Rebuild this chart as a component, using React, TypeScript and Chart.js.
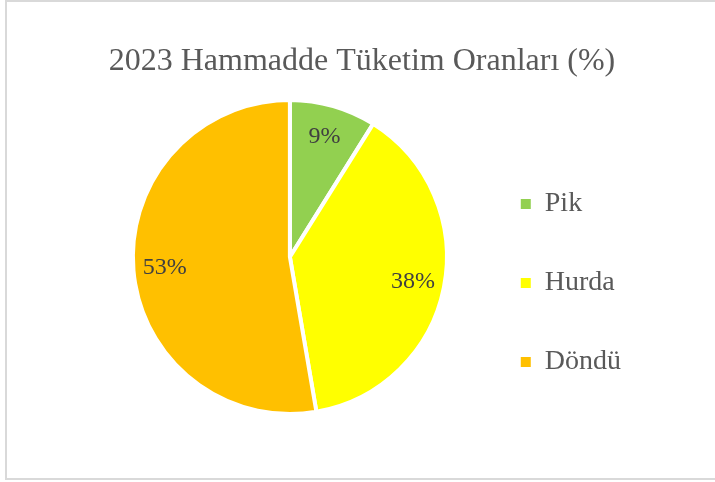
import React, { useEffect, useRef } from "react";
import { Chart, registerables } from "chart.js";

Chart.register(...registerables);

const titleText = "2023 Hammadde Tüketim Oranları (%)";
const categories = ["Pik", "Hurda", "Döndü"];
const shares = [8.9, 38.4, 52.7];
const sliceColors = ["#92D050", "#FFFF00", "#FFC000"];

const SERIF = "'Liberation Serif', 'Times New Roman', serif";

const pctLabels = {
  id: "pctLabels",
  afterLayout(chart: any) {
    const t = chart.titleBlock;
    if (t) {
      t.left -= 17;
    }
  },
  afterDatasetsDraw(chart: any) {
    const ctx = chart.ctx;
    const meta = chart.getDatasetMeta(0);
    const data = chart.data.datasets[0].data as number[];
    const total = data.reduce((a, b) => a + b, 0);
    ctx.save();
    ctx.font = `24px ${SERIF}`;
    ctx.fillStyle = "#404040";
    ctx.textAlign = "center";
    ctx.textBaseline = "middle";
    meta.data.forEach((arc: any, i: number) => {
      const p = arc.getProps(["x", "y", "startAngle", "endAngle", "outerRadius"], true);
      const mid = (p.startAngle + p.endAngle) / 2;
      const r = p.outerRadius * 0.8;
      const tx = p.x + Math.cos(mid) * r;
      const ty = p.y + Math.sin(mid) * r;
      ctx.fillText(Math.round((data[i] / total) * 100) + "%", tx, ty);
    });
    ctx.restore();
  },
};

export default function App() {
  const ref = useRef<HTMLCanvasElement>(null);
  useEffect(() => {
    document.body.style.margin = "0";
    const canvas = ref.current!;
    const baseGen = (Chart as any).overrides.pie.plugins.legend.labels.generateLabels;
    const chart = new Chart(canvas, {
      type: "pie",
      data: {
        labels: categories,
        datasets: [
          {
            data: shares,
            backgroundColor: sliceColors,
            borderColor: "#FFFFFF",
            borderWidth: 4,
            radius: 157,
          },
        ],
      },
      options: {
        responsive: false,
        animation: false,
        layout: { padding: { left: 110, right: 84, top: 0, bottom: 55 } },
        plugins: {
          title: {
            display: true,
            text: titleText,
            color: "#595959",
            font: { family: SERIF, size: 32, weight: "normal" },
            padding: { top: 42, bottom: 6.6 },
          },
          legend: {
            display: true,
            position: "right",
            align: "end",
            labels: {
              color: "#595959",
              font: { family: SERIF, size: 28 },
              boxWidth: 10,
              boxHeight: 10,
              padding: 51,
              generateLabels: (c: any) =>
                baseGen(c).map((l: any) => ({ ...l, lineWidth: 0, strokeStyle: "transparent" })),
            },
          },
          tooltip: { enabled: false },
        },
      },
      plugins: [pctLabels],
    });
    return () => chart.destroy();
  }, []);
  return (
    <div style={{ position: "relative", width: 715, height: 482, overflow: "hidden", background: "#fff" }}>
      <div
        style={{
          position: "absolute",
          left: 5,
          top: 0,
          width: 730,
          height: 480,
          boxSizing: "border-box",
          border: "2px solid #d9d9d9",
        }}
      />
      <canvas
        ref={ref}
        width={715}
        height={482}
        style={{ position: "absolute", left: 0, top: 0, width: 715, height: 482 }}
      />
    </div>
  );
}
